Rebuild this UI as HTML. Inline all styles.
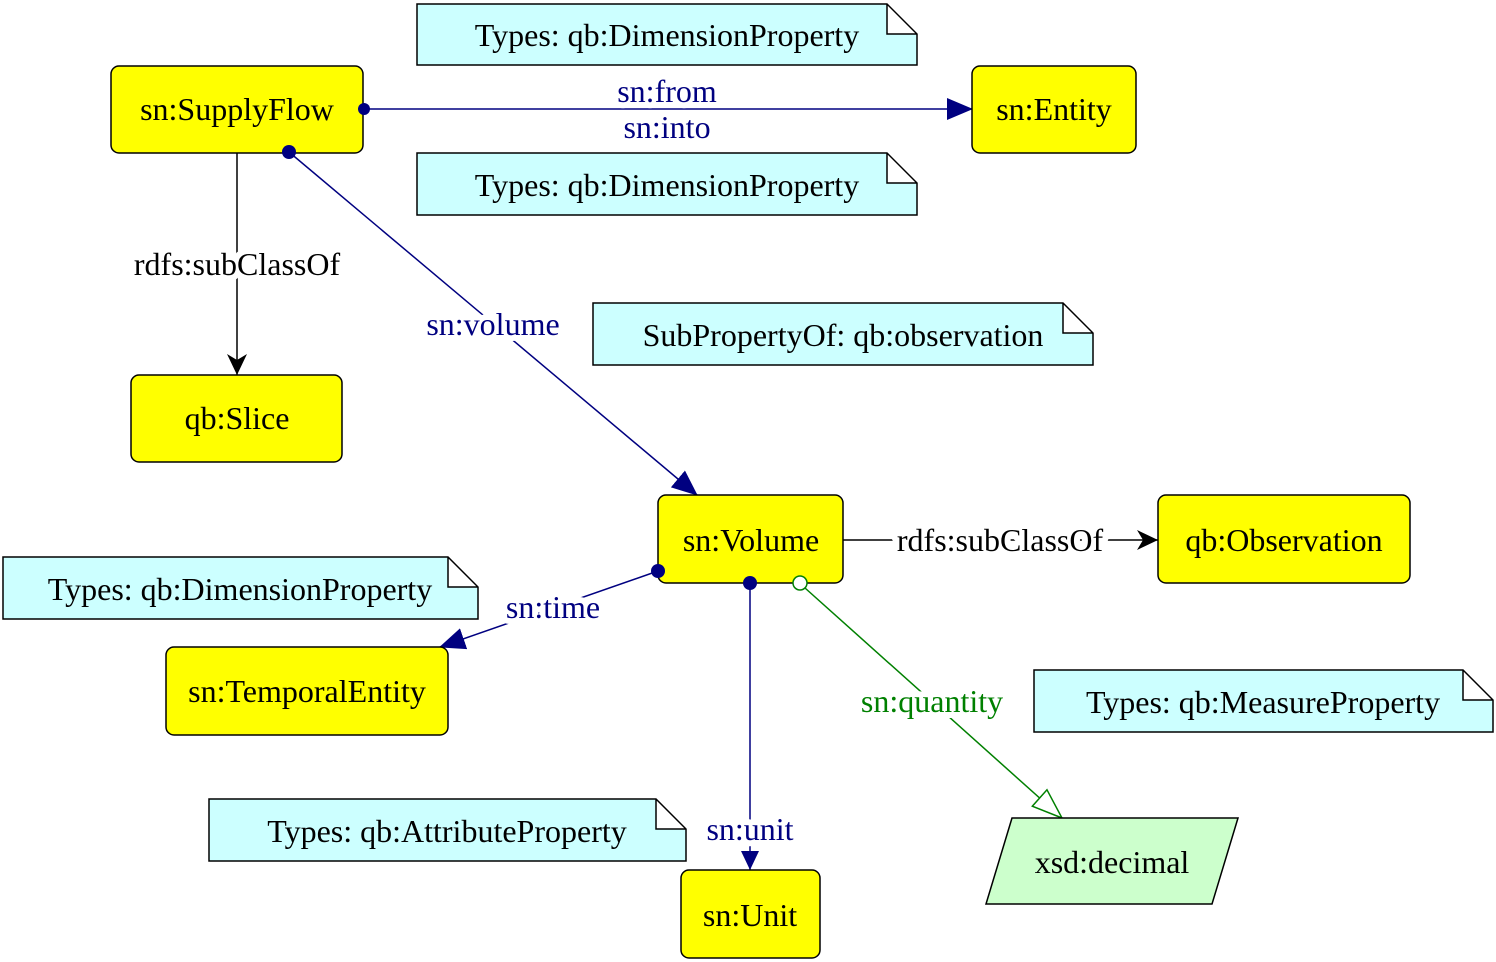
<!DOCTYPE html>
<html><head><meta charset="utf-8"><style>
html,body{margin:0;padding:0;background:#fff;}
svg{display:block;}
text{font-family:"Liberation Serif",serif;font-size:32px;}
.lbl{paint-order:stroke;stroke:#fff;stroke-width:12px;stroke-linejoin:round;}
</style></head><body>
<svg width="1496" height="962" viewBox="0 0 1496 962">
<defs>
<marker id="aNavy" markerWidth="12" markerHeight="10" refX="11" refY="5" orient="auto" markerUnits="userSpaceOnUse" viewBox="0 0 12 10"><path d="M0,0 L12,5 L0,10 Z" fill="#000080"/></marker>
<marker id="aNavyBig" markerWidth="26" markerHeight="22" refX="25" refY="11" orient="auto" markerUnits="userSpaceOnUse" viewBox="0 0 26 22"><path d="M0,0 L26,11 L0,22 Z" fill="#000080"/></marker>
<marker id="aBlack" markerWidth="22" markerHeight="20" refX="21" refY="10" orient="auto" markerUnits="userSpaceOnUse" viewBox="0 0 22 20"><path d="M0,0 L21,10 L0,20 L6,10 Z" fill="#000"/></marker>
<marker id="aGreen" markerWidth="32" markerHeight="24" refX="31" refY="12" orient="auto" markerUnits="userSpaceOnUse" viewBox="0 0 32 24"><path d="M1,1 L31,12 L1,23 Z" fill="#fff" stroke="#008000" stroke-width="1.5"/></marker>
</defs>

<g>
<path d="M417,4 H887 L917,34 V65 H417 Z M887,4 V34 H917" fill="#ccffff" stroke="#000" stroke-width="1.5"/>
<text x="667" y="46" text-anchor="middle">Types: qb:DimensionProperty</text></g>
<g>
<path d="M417,153 H887 L917,183 V215 H417 Z M887,153 V183 H917" fill="#ccffff" stroke="#000" stroke-width="1.5"/>
<text x="667" y="196" text-anchor="middle">Types: qb:DimensionProperty</text></g>
<g>
<path d="M593,303 H1063 L1093,333 V365 H593 Z M1063,303 V333 H1093" fill="#ccffff" stroke="#000" stroke-width="1.5"/>
<text x="843" y="346" text-anchor="middle">SubPropertyOf: qb:observation</text></g>
<g>
<path d="M3,557 H448 L478,587 V619 H3 Z M448,557 V587 H478" fill="#ccffff" stroke="#000" stroke-width="1.5"/>
<text x="240" y="600" text-anchor="middle">Types: qb:DimensionProperty</text></g>
<g>
<path d="M1034,670 H1463 L1493,700 V732 H1034 Z M1463,670 V700 H1493" fill="#ccffff" stroke="#000" stroke-width="1.5"/>
<text x="1263" y="713" text-anchor="middle">Types: qb:MeasureProperty</text></g>
<g>
<path d="M209,799 H656 L686,829 V861 H209 Z M656,799 V829 H686" fill="#ccffff" stroke="#000" stroke-width="1.5"/>
<text x="447" y="842" text-anchor="middle">Types: qb:AttributeProperty</text></g>

<g>
<line x1="363" y1="109" x2="972" y2="109" stroke="#000080" stroke-width="1.5" marker-end="url(#aNavyBig)"/>
<text class="lbl" x="667" y="102" text-anchor="middle" fill="#000080">sn:from</text>
<text class="lbl" x="667" y="138" text-anchor="middle" fill="#000080">sn:into</text></g>
<g>
<line x1="237" y1="153" x2="237" y2="375" stroke="#000" stroke-width="1.5" marker-end="url(#aBlack)"/>
<text class="lbl" x="237" y="275" text-anchor="middle" fill="#000">rdfs:subClassOf</text></g>
<g>
<line x1="289" y1="152" x2="697" y2="495" stroke="#000080" stroke-width="1.5" marker-end="url(#aNavyBig)"/>
<text class="lbl" x="493" y="335" text-anchor="middle" fill="#000080">sn:volume</text></g>
<g>
<line x1="843" y1="540" x2="1158" y2="540" stroke="#000" stroke-width="1.5" marker-end="url(#aBlack)"/>
<text class="lbl" x="1000" y="551" text-anchor="middle" fill="#000">rdfs:subClassOf</text></g>
<g>
<line x1="658" y1="571" x2="440" y2="647" stroke="#000080" stroke-width="1.5" marker-end="url(#aNavyBig)"/>
<text class="lbl" x="553" y="618" text-anchor="middle" fill="#000080">sn:time</text></g>
<g>
<line x1="750" y1="583" x2="750" y2="870" stroke="#000080" stroke-width="1.5"/>
<path d="M741,851 L759,851 L750,870 Z" fill="#000080"/>
<text class="lbl" x="750" y="840" text-anchor="middle" fill="#000080">sn:unit</text></g>
<g>
<line x1="805" y1="588" x2="1062" y2="818" stroke="#008000" stroke-width="1.5" marker-end="url(#aGreen)"/>
<text class="lbl" x="932" y="712" text-anchor="middle" fill="#008000">sn:quantity</text></g>

<g>
<rect x="111" y="66" width="252" height="87" rx="8" fill="#ffff00" stroke="#000" stroke-width="1.5"/>
<text x="237" y="120" text-anchor="middle">sn:SupplyFlow</text></g>
<g>
<rect x="972" y="66" width="164" height="87" rx="8" fill="#ffff00" stroke="#000" stroke-width="1.5"/>
<text x="1054" y="120" text-anchor="middle">sn:Entity</text></g>
<g>
<rect x="131" y="375" width="211" height="87" rx="8" fill="#ffff00" stroke="#000" stroke-width="1.5"/>
<text x="237" y="429" text-anchor="middle">qb:Slice</text></g>
<g>
<rect x="658" y="495" width="185" height="88" rx="8" fill="#ffff00" stroke="#000" stroke-width="1.5"/>
<text x="751" y="551" text-anchor="middle">sn:Volume</text></g>
<g>
<rect x="1158" y="495" width="252" height="88" rx="8" fill="#ffff00" stroke="#000" stroke-width="1.5"/>
<text x="1284" y="551" text-anchor="middle">qb:Observation</text></g>
<g>
<rect x="166" y="647" width="282" height="88" rx="8" fill="#ffff00" stroke="#000" stroke-width="1.5"/>
<text x="307" y="702" text-anchor="middle">sn:TemporalEntity</text></g>
<g>
<rect x="681" y="870" width="139" height="88" rx="8" fill="#ffff00" stroke="#000" stroke-width="1.5"/>
<text x="750" y="926" text-anchor="middle">sn:Unit</text></g>
<g>
<path d="M1012,818 L1238,818 L1212,904 L986,904 Z" fill="#ccffcc" stroke="#000" stroke-width="1.5"/>
<text x="1112" y="873" text-anchor="middle">xsd:decimal</text></g>

<g>
<circle cx="364" cy="109" r="6" fill="#000080"/>
<circle cx="289" cy="152" r="7" fill="#000080"/>
<circle cx="658" cy="571" r="7" fill="#000080"/>
<circle cx="750" cy="583" r="7" fill="#000080"/>
<circle cx="800" cy="583" r="7" fill="#fff" stroke="#008000" stroke-width="1.5"/>
</g>
</svg>
</body></html>
